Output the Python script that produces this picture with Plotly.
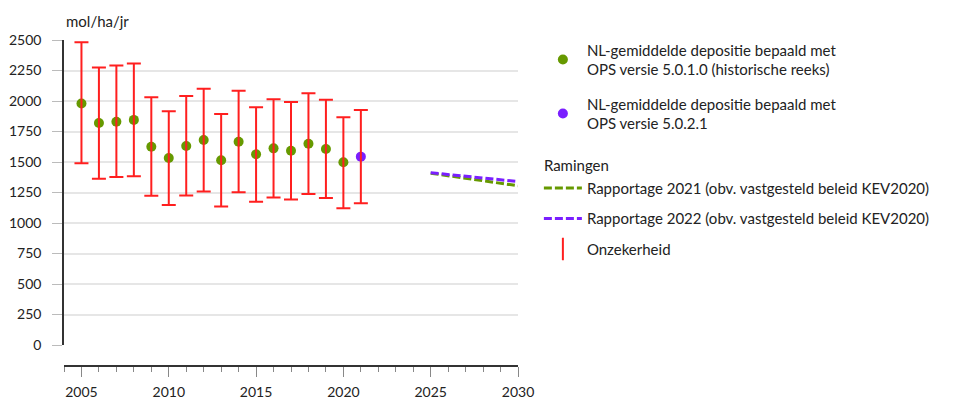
import plotly.graph_objects as go

years_hist = [2005, 2006, 2007, 2008, 2009, 2010, 2011, 2012, 2013, 2014, 2015, 2016, 2017, 2018, 2019, 2020]
dep_hist = [1980, 1820, 1830, 1845, 1625, 1533, 1631, 1680, 1514, 1666, 1563, 1612, 1592, 1650, 1606, 1498]
years_new = [2021]
dep_new = [1544]

err_years = years_hist + years_new
err_center = dep_hist + dep_new
err_upper = [2481, 2275, 2291, 2307, 2030, 1916, 2041, 2101, 1894, 2085, 1949, 2014, 1992, 2063, 2011, 1867, 1927]
err_lower = [1490, 1362, 1378, 1384, 1223, 1147, 1226, 1259, 1136, 1253, 1174, 1209, 1193, 1237, 1205, 1120, 1161]

proj_years = [2025, 2030]
proj_2021 = [1408, 1305]
proj_2022 = [1412, 1340]

GREEN = "#669900"
PURPLE = "#7a1fff"
RED = "#ff1f1f"
FONT = "Lato"
TXT = "#222"

fig = go.Figure()

fig.add_trace(go.Scatter(
    x=years_hist, y=dep_hist, mode="markers",
    marker=dict(color=GREEN, size=10),
    name="NL-gemiddelde depositie bepaald met<br>OPS versie 5.0.1.0 (historische reeks)",
    legendgroup="a", legend="legend",
))
fig.add_trace(go.Scatter(
    x=years_new, y=dep_new, mode="markers",
    marker=dict(color=PURPLE, size=10),
    name="NL-gemiddelde depositie bepaald met<br>OPS versie 5.0.2.1",
    legendgroup="b", legend="legend",
))
fig.add_trace(go.Scatter(
    x=proj_years, y=proj_2021, mode="lines",
    line=dict(color=GREEN, width=3, dash="8px,3px"),
    name="Rapportage 2021 (obv. vastgesteld beleid KEV2020)",
    legendgroup="c", legend="legend2",
    legendgrouptitle=dict(text="Ramingen", font=dict(size=15, family=FONT, color=TXT)),
))
fig.add_trace(go.Scatter(
    x=proj_years, y=proj_2022, mode="lines",
    line=dict(color=PURPLE, width=3, dash="8px,3px"),
    name="Rapportage 2022 (obv. vastgesteld beleid KEV2020)",
    legendgroup="e", legend="legend2",
))
fig.add_trace(go.Scatter(
    x=err_years, y=err_center, mode="markers",
    marker=dict(color="rgba(0,0,0,0)", size=1),
    error_y=dict(type="data", symmetric=False,
                 array=[u - c for u, c in zip(err_upper, err_center)],
                 arrayminus=[c - l for c, l in zip(err_center, err_lower)],
                 color=RED, thickness=2, width=7),
    name="Onzekerheid", showlegend=False,
    legendgroup="d", legend="legend2",
))
# legend entry for the uncertainty bars
fig.add_trace(go.Scatter(
    x=[None], y=[None], mode="markers",
    marker=dict(symbol="line-ns", size=16, line=dict(color=RED, width=2)),
    name="Onzekerheid",
    legendgroup="d", legend="legend2",
))

fig.update_layout(
    width=945, height=393,
    margin=dict(l=56, r=435, t=32, b=35, autoexpand=False),
    plot_bgcolor="white", paper_bgcolor="white",
    font=dict(family=FONT, size=14, color=TXT),
    showlegend=True,
    legend=dict(x=1.046, y=1.02, xanchor="left", yanchor="top",
                font=dict(size=15, family=FONT, color=TXT),
                tracegroupgap=12, itemwidth=38, maxheight=400),
    legend2=dict(x=1.046, y=0.665, xanchor="left", yanchor="top",
                 font=dict(size=15, family=FONT, color=TXT),
                 tracegroupgap=8, itemwidth=38, maxheight=400),
    xaxis=dict(range=[2004, 2030], anchor="free", position=0, automargin=False,
               showgrid=False, zeroline=False,
               showline=True, linecolor="#333", linewidth=1.5,
               tickmode="array", tickvals=[2005, 2010, 2015, 2020, 2025, 2030],
               ticks="outside", ticklen=10, tickcolor="#888", tickwidth=1,
               minor=dict(dtick=1, tick0=2004, ticks="outside", ticklen=5, tickcolor="#888", showgrid=False),
               ticklabelstandoff=3,
               tickfont=dict(size=14, family=FONT, color=TXT)),
    yaxis=dict(range=[0, 2500], domain=[0.0644, 1], automargin=False,
               showgrid=True, gridcolor="#e6e6e6", gridwidth=1.5,
               zeroline=False,
               showline=True, linecolor="#333", linewidth=1.5,
               tickmode="array", tickvals=list(range(0, 2501, 250)),
               ticks="outside", ticklen=10, tickcolor="#bbb",
               ticklabelstandoff=8,
               tickfont=dict(size=14, family=FONT, color=TXT)),
    annotations=[dict(text="mol/ha/jr", xref="paper", yref="paper", x=0, y=1.0,
                      xanchor="left", yanchor="bottom", yshift=8, showarrow=False,
                      font=dict(size=15, family=FONT, color=TXT))],
)

fig.write_html("out.html")
